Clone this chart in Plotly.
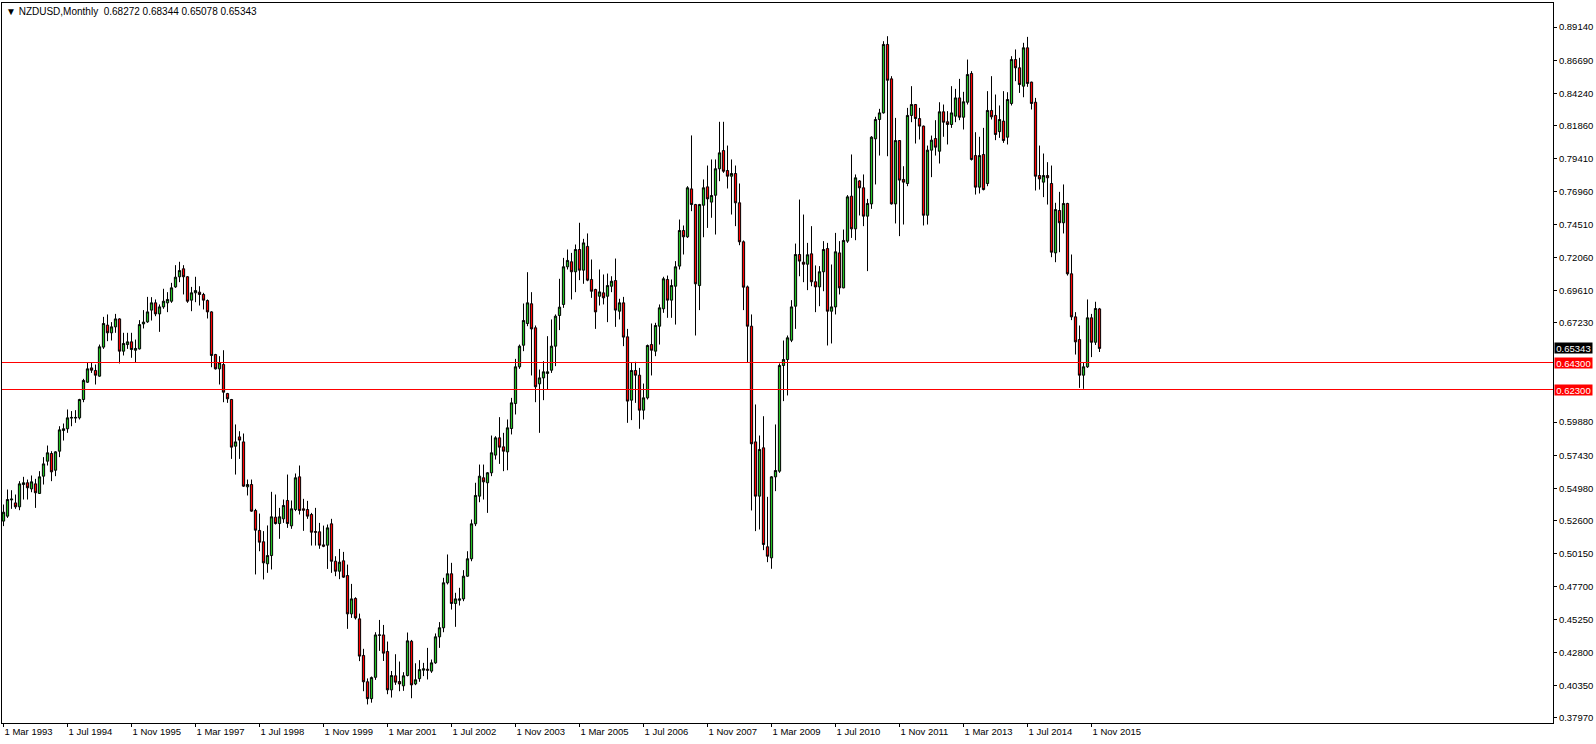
import plotly.graph_objects as go

# ---------------- data ----------------
symbol_title = "\u25bc NZDUSD,Monthly  0.68272 0.68344 0.65078 0.65343"

opens = [
    0.5255, 0.5292, 0.5412, 0.5390, 0.5361, 0.5526, 0.5539, 0.5494, 0.5531, 0.5460,
    0.5588, 0.5699, 0.5756, 0.5632, 0.5773, 0.5926, 0.5939, 0.6018, 0.6018, 0.6020,
    0.6156, 0.6284, 0.6390, 0.6371, 0.6329, 0.6544, 0.6707, 0.6650, 0.6694, 0.6753,
    0.6514, 0.6563, 0.6583, 0.6521, 0.6531, 0.6716, 0.6731, 0.6818, 0.6872, 0.6790,
    0.6842, 0.6872, 0.6884, 0.6990, 0.7065, 0.7124, 0.7065, 0.6892, 0.6946, 0.6951,
    0.6934, 0.6889, 0.6805, 0.6489, 0.6383, 0.6415, 0.6200, 0.6156, 0.5810, 0.5879,
    0.5842, 0.5509, 0.5526, 0.5334, 0.5186, 0.5102, 0.4939, 0.5000, 0.5284, 0.5237,
    0.5272, 0.5408, 0.5220, 0.5341, 0.5583, 0.5346, 0.5341, 0.5304, 0.5178, 0.5176,
    0.5079, 0.5077, 0.5235, 0.4958, 0.4884, 0.4961, 0.4852, 0.4568, 0.4682, 0.4531,
    0.4260, 0.4065, 0.3940, 0.4098, 0.4412, 0.4412, 0.4289, 0.4005, 0.4109, 0.4067,
    0.4035, 0.4111, 0.4365, 0.4049, 0.4088, 0.4151, 0.4158, 0.4144, 0.4205, 0.4398,
    0.4465, 0.4798, 0.4865, 0.4645, 0.4669, 0.4679, 0.4847, 0.4976, 0.5235, 0.5440,
    0.5576, 0.5539, 0.5613, 0.5744, 0.5872, 0.5805, 0.5768, 0.5941, 0.6126, 0.6398,
    0.6558, 0.6719, 0.6865, 0.6687, 0.6272, 0.6316, 0.6349, 0.6373, 0.6551, 0.6778,
    0.6860, 0.7139, 0.7176, 0.7102, 0.7267, 0.7114, 0.7290, 0.7045, 0.6971, 0.6921,
    0.6946, 0.6921, 0.6995, 0.7037, 0.6810, 0.6872, 0.6620, 0.6151, 0.6371, 0.6336,
    0.6077, 0.6168, 0.6563, 0.6514, 0.6699, 0.6828, 0.7045, 0.6892, 0.6995, 0.7144,
    0.7408, 0.7361, 0.7716, 0.7600, 0.7000, 0.7595, 0.7731, 0.7618, 0.7669, 0.7865,
    0.8000, 0.7852, 0.7810, 0.7830, 0.7613, 0.7324, 0.6990, 0.6699, 0.5842, 0.5440,
    0.5798, 0.5065, 0.4983, 0.5583, 0.5625, 0.6408, 0.6452, 0.6595, 0.6847, 0.7230,
    0.7173, 0.7158, 0.7235, 0.7028, 0.6990, 0.7102, 0.7274, 0.6810, 0.6842, 0.7242,
    0.6983, 0.7329, 0.7662, 0.7420, 0.7775, 0.7724, 0.7514, 0.7605, 0.8087, 0.8230,
    0.8279, 0.8786, 0.8531, 0.7605, 0.8074, 0.7786, 0.7756, 0.8260, 0.8341, 0.8237,
    0.8181, 0.7521, 0.8003, 0.8089, 0.7995, 0.8287, 0.8213, 0.8193, 0.8255, 0.8390,
    0.8247, 0.8358, 0.8571, 0.7963, 0.7729, 0.7971, 0.7756, 0.8297, 0.8260, 0.8140,
    0.8218, 0.8099, 0.8349, 0.8674, 0.8613, 0.8477, 0.8761, 0.8507, 0.8358, 0.7815,
    0.7766, 0.7815, 0.7756, 0.7242, 0.7556, 0.7465, 0.7608, 0.7087, 0.6768, 0.6600,
    0.6336, 0.6398, 0.6761, 0.6580, 0.68272,
]

highs = [
    0.5378, 0.5489, 0.5484, 0.5452, 0.5551, 0.5583, 0.5563, 0.5593, 0.5568, 0.5625,
    0.5729, 0.5815, 0.5773, 0.5773, 0.5958, 0.5978, 0.6082, 0.6070, 0.6077, 0.6161,
    0.6309, 0.6432, 0.6432, 0.6415, 0.6563, 0.6768, 0.6786, 0.6729, 0.6790, 0.6758,
    0.6650, 0.6650, 0.6650, 0.6600, 0.6744, 0.6818, 0.6916, 0.6914, 0.6897, 0.6860,
    0.6976, 0.6951, 0.7020, 0.7151, 0.7176, 0.7151, 0.7070, 0.6990, 0.7065, 0.6995,
    0.6946, 0.6897, 0.6810, 0.6494, 0.6477, 0.6521, 0.6205, 0.6160, 0.5971, 0.5921,
    0.5904, 0.5563, 0.5563, 0.5346, 0.5311, 0.5181, 0.5223, 0.5472, 0.5452, 0.5353,
    0.5415, 0.5600, 0.5408, 0.5608, 0.5667, 0.5420, 0.5405, 0.5316, 0.5353, 0.5242,
    0.5222, 0.5230, 0.5272, 0.4995, 0.5049, 0.5027, 0.4933, 0.4790, 0.4691, 0.4570,
    0.4309, 0.4090, 0.4104, 0.4432, 0.4523, 0.4486, 0.4363, 0.4145, 0.4269, 0.4215,
    0.4136, 0.4430, 0.4375, 0.4202, 0.4225, 0.4205, 0.4316, 0.4230, 0.4423, 0.4507,
    0.4835, 0.5008, 0.4946, 0.4724, 0.4761, 0.4892, 0.5032, 0.5267, 0.5539, 0.5674,
    0.5674, 0.5618, 0.5889, 0.5884, 0.6025, 0.5909, 0.6008, 0.6168, 0.6457, 0.6563,
    0.6867, 0.7099, 0.6951, 0.6704, 0.6378, 0.6440, 0.6625, 0.6749, 0.6786, 0.7050,
    0.7205, 0.7267, 0.7242, 0.7304, 0.7465, 0.7346, 0.7386, 0.7193, 0.6976, 0.7119,
    0.7082, 0.7089, 0.7069, 0.7200, 0.6902, 0.6916, 0.6679, 0.6428, 0.6435, 0.6390,
    0.6274, 0.6563, 0.6719, 0.6724, 0.6860, 0.7065, 0.7074, 0.7045, 0.7181, 0.7489,
    0.7445, 0.7736, 0.8112, 0.7605, 0.7605, 0.7786, 0.7889, 0.7934, 0.7934, 0.8213,
    0.8213, 0.8037, 0.7934, 0.7889, 0.7756, 0.7334, 0.7000, 0.6786, 0.6119, 0.5889,
    0.6032, 0.5435, 0.5588, 0.5971, 0.6423, 0.6593, 0.6630, 0.6892, 0.7311, 0.7637,
    0.7526, 0.7316, 0.7440, 0.7149, 0.7144, 0.7329, 0.7316, 0.7156, 0.7390, 0.7329,
    0.7415, 0.7670, 0.7971, 0.7823, 0.7781, 0.7823, 0.7642, 0.8107, 0.8250, 0.8309,
    0.8810, 0.8847, 0.8551, 0.8242, 0.8078, 0.7884, 0.8316, 0.8477, 0.8345, 0.8316,
    0.8185, 0.8037, 0.8111, 0.8225, 0.8358, 0.8341, 0.8292, 0.8477, 0.8457, 0.8531,
    0.8435, 0.8674, 0.8588, 0.8136, 0.8102, 0.8168, 0.8440, 0.8551, 0.8415, 0.8334,
    0.8440, 0.8432, 0.8699, 0.8749, 0.8687, 0.8798, 0.8842, 0.8510, 0.8390, 0.8037,
    0.7978, 0.7914, 0.7889, 0.7613, 0.7694, 0.7749, 0.7613, 0.7230, 0.6803, 0.6704,
    0.6428, 0.6897, 0.6790, 0.6880, 0.68344,
]

lows = [
    0.5218, 0.5279, 0.5346, 0.5346, 0.5336, 0.5415, 0.5415, 0.5469, 0.5353, 0.5457,
    0.5526, 0.5667, 0.5551, 0.5588, 0.5729, 0.5852, 0.5909, 0.5958, 0.5983, 0.6008,
    0.6136, 0.6279, 0.6353, 0.6267, 0.6325, 0.6531, 0.6588, 0.6593, 0.6650, 0.6423,
    0.6482, 0.6531, 0.6465, 0.6428, 0.6526, 0.6682, 0.6724, 0.6741, 0.6773, 0.6657,
    0.6828, 0.6803, 0.6872, 0.6983, 0.7025, 0.6934, 0.6872, 0.6810, 0.6877, 0.6852,
    0.6823, 0.6756, 0.6395, 0.6378, 0.6267, 0.6136, 0.6131, 0.5716, 0.5600, 0.5716,
    0.5509, 0.5445, 0.5325, 0.4860, 0.5032, 0.4823, 0.4872, 0.4897, 0.5230, 0.5124,
    0.5242, 0.5205, 0.5198, 0.5329, 0.5304, 0.5183, 0.5272, 0.5074, 0.5074, 0.5050,
    0.5062, 0.4901, 0.4872, 0.4847, 0.4825, 0.4835, 0.4457, 0.4538, 0.4526, 0.4218,
    0.3995, 0.3897, 0.3910, 0.4079, 0.4294, 0.4219, 0.3973, 0.3948, 0.4042, 0.3995,
    0.3998, 0.4105, 0.3943, 0.4040, 0.4065, 0.4107, 0.4082, 0.4131, 0.4198, 0.4316,
    0.4432, 0.4786, 0.4600, 0.4472, 0.4630, 0.4662, 0.4843, 0.4958, 0.5218, 0.5395,
    0.5415, 0.5316, 0.5588, 0.5711, 0.5679, 0.5625, 0.5632, 0.5897, 0.6045, 0.6383,
    0.6514, 0.6699, 0.6334, 0.6136, 0.5909, 0.6151, 0.6230, 0.6353, 0.6403, 0.6670,
    0.6835, 0.7119, 0.6897, 0.6951, 0.7040, 0.7013, 0.7032, 0.6909, 0.6679, 0.6852,
    0.6860, 0.6729, 0.6951, 0.6694, 0.6749, 0.6551, 0.5983, 0.6003, 0.6131, 0.5939,
    0.6008, 0.6156, 0.6334, 0.6477, 0.6563, 0.6798, 0.6761, 0.6761, 0.6711, 0.7119,
    0.7230, 0.7353, 0.7551, 0.6630, 0.6818, 0.7358, 0.7427, 0.7502, 0.7378, 0.7773,
    0.7835, 0.7719, 0.7526, 0.7440, 0.7299, 0.6818, 0.6428, 0.5334, 0.5181, 0.5193,
    0.5040, 0.4951, 0.4902, 0.5477, 0.5613, 0.6144, 0.6186, 0.6581, 0.6679, 0.7069,
    0.7025, 0.6966, 0.6995, 0.6803, 0.6847, 0.6958, 0.6556, 0.6571, 0.6786, 0.6934,
    0.6980, 0.7316, 0.7353, 0.7336, 0.7519, 0.7440, 0.7107, 0.7568, 0.7749, 0.7963,
    0.8274, 0.7958, 0.7600, 0.7460, 0.7366, 0.7452, 0.7736, 0.8210, 0.8052, 0.8082,
    0.7445, 0.7452, 0.7803, 0.7963, 0.7904, 0.8102, 0.8045, 0.8168, 0.8210, 0.8225,
    0.8156, 0.8341, 0.7926, 0.7674, 0.7682, 0.7705, 0.7736, 0.8230, 0.8077, 0.8094,
    0.8057, 0.8045, 0.8334, 0.8514, 0.8427, 0.8395, 0.8472, 0.8304, 0.7704, 0.7711,
    0.7655, 0.7600, 0.7210, 0.7173, 0.7247, 0.7386, 0.7074, 0.6744, 0.6489, 0.6242,
    0.6235, 0.6390, 0.6470, 0.6560, 0.65078,
]

closes = [
    0.5321, 0.5415, 0.5418, 0.5361, 0.5531, 0.5539, 0.5502, 0.5546, 0.5465, 0.5583,
    0.5679, 0.5761, 0.5620, 0.5768, 0.5931, 0.5939, 0.6020, 0.6023, 0.6023, 0.6156,
    0.6297, 0.6383, 0.6373, 0.6336, 0.6546, 0.6719, 0.6650, 0.6694, 0.6753, 0.6514,
    0.6571, 0.6583, 0.6526, 0.6534, 0.6711, 0.6729, 0.6805, 0.6872, 0.6790, 0.6842,
    0.6884, 0.6897, 0.6983, 0.7062, 0.7111, 0.7065, 0.6884, 0.6946, 0.6963, 0.6934,
    0.6892, 0.6805, 0.6482, 0.6383, 0.6428, 0.6210, 0.6161, 0.5803, 0.5842, 0.5855,
    0.5514, 0.5526, 0.5329, 0.5188, 0.5099, 0.4946, 0.5000, 0.5287, 0.5237, 0.5287,
    0.5371, 0.5237, 0.5346, 0.5576, 0.5334, 0.5336, 0.5292, 0.5173, 0.5173, 0.5077,
    0.5069, 0.5205, 0.4958, 0.4884, 0.4951, 0.4840, 0.4568, 0.4679, 0.4538, 0.4255,
    0.4065, 0.3940, 0.4096, 0.4412, 0.4410, 0.4277, 0.4005, 0.4111, 0.4062, 0.4049,
    0.4109, 0.4368, 0.4042, 0.4080, 0.4155, 0.4161, 0.4151, 0.4205, 0.4398, 0.4465,
    0.4798, 0.4865, 0.4645, 0.4679, 0.4679, 0.4847, 0.4976, 0.5235, 0.5445, 0.5588,
    0.5546, 0.5613, 0.5761, 0.5872, 0.5803, 0.5773, 0.5946, 0.6131, 0.6398, 0.6551,
    0.6741, 0.6872, 0.6679, 0.6250, 0.6316, 0.6361, 0.6361, 0.6551, 0.6773, 0.6840,
    0.7139, 0.7186, 0.7102, 0.7267, 0.7114, 0.7316, 0.7040, 0.6958, 0.6805, 0.6953,
    0.6909, 0.7000, 0.7032, 0.6818, 0.6872, 0.6618, 0.6144, 0.6371, 0.6336, 0.6077,
    0.6168, 0.6556, 0.6521, 0.6704, 0.6835, 0.7050, 0.6892, 0.7000, 0.7139, 0.7408,
    0.7361, 0.7724, 0.7600, 0.7013, 0.7600, 0.7724, 0.7642, 0.7667, 0.7865, 0.7983,
    0.7847, 0.7810, 0.7830, 0.7613, 0.7324, 0.6988, 0.6699, 0.5828, 0.5440, 0.5786,
    0.5082, 0.4995, 0.5583, 0.5630, 0.6408, 0.6452, 0.6613, 0.6842, 0.7230, 0.7181,
    0.7158, 0.7228, 0.7028, 0.6990, 0.7102, 0.7267, 0.6810, 0.6842, 0.7250, 0.6983,
    0.7334, 0.7657, 0.7420, 0.7798, 0.7724, 0.7514, 0.7608, 0.8099, 0.8230, 0.8279,
    0.8786, 0.8521, 0.7605, 0.8074, 0.7781, 0.7766, 0.8260, 0.8341, 0.8237, 0.8181,
    0.7521, 0.8003, 0.8077, 0.8025, 0.8287, 0.8210, 0.8193, 0.8279, 0.8390, 0.8247,
    0.8361, 0.8563, 0.7934, 0.7729, 0.7963, 0.7711, 0.8297, 0.8250, 0.8119, 0.8230,
    0.8074, 0.8378, 0.8674, 0.8613, 0.8489, 0.8761, 0.8497, 0.8349, 0.7810, 0.7790,
    0.7815, 0.7798, 0.7247, 0.7563, 0.7465, 0.7608, 0.7087, 0.6768, 0.6583, 0.6336,
    0.6398, 0.6761, 0.6580, 0.6830, 0.65343,
]

# time-axis labels (first bar = 1 Mar 1993, one bar per month)
x_tick_labels = [
    "1 Mar 1993", "1 Jul 1994", "1 Nov 1995", "1 Mar 1997", "1 Jul 1998",
    "1 Nov 1999", "1 Mar 2001", "1 Jul 2002", "1 Nov 2003", "1 Mar 2005",
    "1 Jul 2006", "1 Nov 2007", "1 Mar 2009", "1 Jul 2010", "1 Nov 2011",
    "1 Mar 2013", "1 Jul 2014", "1 Nov 2015",
]
x_tick_bars = [0, 16, 32, 48, 64, 80, 96, 112, 128, 144, 160, 176, 192, 208, 224, 240, 256, 272]

# price-scale labels (the ones near 0.648 and 0.623 are hidden behind the price boxes)
y_tick_values = [
    0.89140, 0.86690, 0.84240, 0.81860, 0.79410, 0.76960, 0.74510, 0.72060,
    0.69610, 0.67230, 0.59880, 0.57430, 0.54980, 0.52600,
    0.50150, 0.47700, 0.45250, 0.42800, 0.40350, 0.37970,
]

level_lines = [0.64300, 0.62300]
last_price = 0.65343

# ---------------- figure ----------------
GREEN = "#22C022"
RED = "#FF0000"
FONT = "Liberation Sans, Arial, sans-serif"

bars = list(range(len(opens)))

fig = go.Figure()
fig.add_trace(go.Candlestick(
    x=bars, open=opens, high=highs, low=lows, close=closes,
    increasing=dict(line=dict(color="black", width=1), fillcolor=GREEN),
    decreasing=dict(line=dict(color="black", width=1), fillcolor=RED),
    whiskerwidth=0, showlegend=False, hoverinfo="x+y",
))

for lvl in level_lines:
    fig.add_shape(type="line", xref="paper", x0=0, x1=1, yref="y", y0=lvl, y1=lvl,
                  line=dict(color="#FF0000", width=1), layer="above")

# right-hand price boxes
fig.add_annotation(xref="paper", x=1, xanchor="left", xshift=1, yref="y", y=last_price,
                   yanchor="middle", text=f"{last_price:.5f}", showarrow=False,
                   bgcolor="black", font=dict(color="white", size=9.5, family=FONT),
                   width=37, height=10, borderpad=0)
for lvl in level_lines:
    fig.add_annotation(xref="paper", x=1, xanchor="left", xshift=1, yref="y", y=lvl,
                       yanchor="middle", text=f"{lvl:.5f}", showarrow=False,
                       bgcolor="#FF0000", font=dict(color="white", size=9.5, family=FONT),
                       width=37, height=10, borderpad=0)

# header text
fig.add_annotation(xref="paper", yref="paper", x=0, y=1, xanchor="left", yanchor="top",
                   xshift=2, yshift=-1, text=symbol_title, showarrow=False,
                   font=dict(color="black", size=10, family=FONT))

fig.update_layout(
    width=1596, height=744,
    margin=dict(l=2, r=43, t=3, b=21),
    paper_bgcolor="white", plot_bgcolor="white",
    showlegend=False, boxgap=0.2,
    font=dict(family=FONT, size=9.5, color="black"),
    xaxis=dict(
        range=[-0.375, 387.375], rangeslider=dict(visible=False),
        showgrid=False, zeroline=False,
        showline=True, mirror=True, linecolor="black", linewidth=1,
        tickmode="array", tickvals=x_tick_bars, ticktext=x_tick_labels,
        ticks="outside", ticklen=3, tickcolor="black",
        ticklabelposition="outside right",
        tickfont=dict(size=9.5, family=FONT, color="black"),
    ),
    yaxis=dict(
        side="right", range=[0.37596, 0.90930],
        showgrid=False, zeroline=False,
        showline=True, mirror=True, linecolor="black", linewidth=1,
        tickmode="array", tickvals=y_tick_values,
        ticktext=[f"{v:.5f}" for v in y_tick_values],
        ticks="outside", ticklen=3, tickcolor="black",
        tickfont=dict(size=9.5, family=FONT, color="black"),
    ),
)

fig.write_html(
    "out.html",
    config={"displayModeBar": False},
    post_script="document.body.style.margin='0';document.body.style.overflow='hidden';",
)
